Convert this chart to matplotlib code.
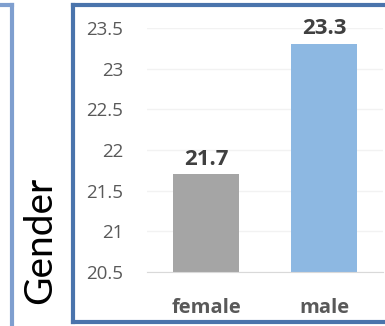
import matplotlib
matplotlib.use("Agg")
import matplotlib.pyplot as plt
from matplotlib.lines import Line2D

categories = ["female", "male"]
values = [21.7, 23.3]
bar_colors = ["#a5a5a5", "#8db8e2"]
yticks = [20.5, 21, 21.5, 22, 22.5, 23, 23.5]
ytick_labels = ["20.5", "21", "21.5", "22", "22.5", "23", "23.5"]

plt.rcParams['font.family'] = ['Open Sans', 'DejaVu Sans']

W, H = 385, 326
fig = plt.figure(figsize=(W / 100, H / 100), dpi=100)

def px(x, y):
    return x / W, 1 - y / H

# plot area
ax = fig.add_axes([147 / W, (H - 272) / H, 236 / W, 244 / H])
x = range(len(categories))
ax.bar(x, values, width=0.56, color=bar_colors, zorder=3)
ax.set_ylim(20.5, 23.5)
ax.set_xlim(-0.5, 1.5)
ax.set_yticks(yticks)
ax.set_yticklabels(ytick_labels, fontsize=13.5, color="#595959")
ax.set_xticks(list(x))
ax.set_xticklabels(categories, fontsize=14.5, color="#595959", fontweight="bold")
ax.tick_params(length=0)
ax.tick_params(axis="y", pad=17)
ax.tick_params(axis="x", pad=19)
ax.grid(axis="y", color="#f2f2f2", linewidth=1, zorder=0)
for s in ["top", "right", "left"]:
    ax.spines[s].set_visible(False)
ax.spines["bottom"].set_color("#d9d9d9")
ax.spines["bottom"].set_zorder(4)
for i, v in enumerate(values):
    ax.text(i, v + 0.06, f"{v:.1f}", ha="center", va="bottom", fontsize=16,
            fontweight="bold", color="#404040")

# panel borders
blue = "#4a74ac"
def seg(x0, y0, x1, y1, c, lw=3):
    a = px(x0, y0)
    b = px(x1, y1)
    fig.add_artist(Line2D([a[0], b[0]], [a[1], b[1]], color=c, linewidth=lw,
                          transform=fig.transFigure, solid_capstyle="projecting"))

seg(73, 5, 73, 322, blue)
seg(73, 5, 390, 5, blue)
seg(73, 322, 390, 322, blue)
seg(12, 5, 12, 330, "#7f9fcf")
seg(-5, 5, 12, 5, "#7f9fcf")

fig.text(40 / W, 1 - 240 / H, "Gender", rotation=90, ha="center", va="center",
         fontsize=28, color="black", family=["Lato", "DejaVu Sans"])

fig.savefig("out.png", dpi=100)
